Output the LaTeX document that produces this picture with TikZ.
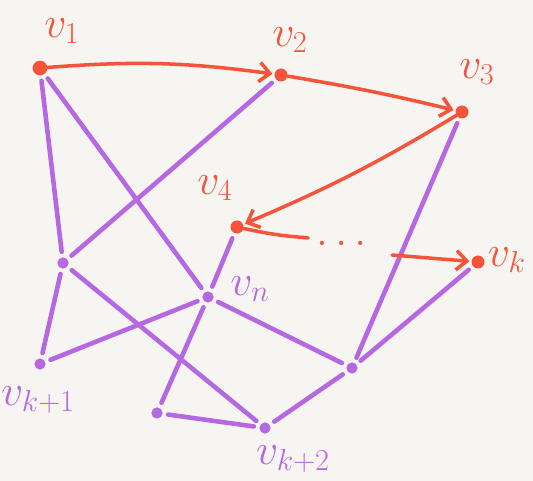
\documentclass[tikz,border=0pt]{standalone}
\usepackage{amsmath}
\usetikzlibrary{arrows.meta}
\definecolor{redpen}{RGB}{246,84,58}
\definecolor{purplepen}{RGB}{182,104,226}
\definecolor{paper}{RGB}{246,245,241}
\tikzset{
  every picture/.style={line join=round, line cap=round, >={Straight Barb[length=6pt,width=11pt]}},
  rdot/.style={circle, fill=redpen, inner sep=0pt, minimum size=7.4pt},
  pdot/.style={circle, fill=purplepen, inner sep=0pt, minimum size=6.4pt},
  rlbl/.style={text=redpen, font=\fontsize{26}{26}\selectfont},
  plbl/.style={text=purplepen, font=\fontsize{26}{26}\selectfont},
  redge/.style={->, draw=redpen, line width=2pt, shorten >=1pt},
  pedge/.style={draw=purplepen, line width=2.6pt, shorten <=3pt, shorten >=3pt},
}

\begin{document}
\begin{tikzpicture}
\fill[paper](0,0) rectangle (10.66,-9.62);
\useasboundingbox (0,0) rectangle (10.66,-9.62);
% red path
\node[rdot,minimum size=8.4pt] (v1) at (0.80,-1.36) {};
\node[rdot] (v2) at (5.62,-1.50) {};
\node[rdot] (v3) at (9.24,-2.24) {};
\node[rdot] (v4) at (4.74,-4.54) {};
\node[rdot] (vk) at (9.56,-5.24) {};
% purple vertices
\node[pdot] (a) at (1.26,-5.26) {};
\node[pdot] (vn) at (4.16,-5.94) {};
\node[pdot] (vk1) at (0.80,-7.28) {};
\node[pdot] (b) at (7.04,-7.36) {};
\node[pdot] (c) at (3.14,-8.26) {};
\node[pdot] (vk2) at (5.30,-8.56) {};
% labels
\node[rlbl] (l1) at (1.24,-0.62) {$v_1$};
\node[rlbl] (l2) at (5.80,-0.80) {$v_2$};
\node[rlbl] (l3) at (9.54,-1.44) {$v_3$};
\node[rlbl] (l4) at (4.30,-3.76) {$v_4$};
\node[rlbl] (lk) at (10.14,-5.20) {$v_k$};
\node[plbl] (ln) at (5.00,-5.78) {$v_n$};
\node[plbl] (lk1) at (0.76,-8.00) {$v_{k+1}$};
\node[plbl] (lk2) at (5.86,-9.18) {$v_{k+2}$};
% purple edges
\draw[pedge](v1)--(a);
\draw[pedge](v1)--(vn);
\draw[pedge](v2)--(a);
\draw[pedge](v3)--(b);
\draw[pedge](vk)--(b);
\draw[pedge](v4)--(vn);
\draw[pedge](a)--(vk1);
\draw[pedge](a)--(vk2);
\draw[pedge](vn)--(vk1);
\draw[pedge](vn)--(c);
\draw[pedge](vn)--(b);
\draw[pedge](c)--(vk2);
\draw[pedge](vk2)--(b);
% red arrows
\node[text=redpen, font=\fontsize{26}{26}\selectfont] (dots) at (6.90,-4.86) {$\dots$};
\coordinate (d1) at (6.20,-4.76);
\coordinate (d2) at (7.84,-5.10);
\draw[redge](v1) to[bend left=6] (v2);
\draw[redge](v2) to[bend left=2] (v3);
\draw[redge](v3) to[bend left=4] (v4);
\draw[redge,-](v4) to[bend right=4] (d1);
\draw[redge](d2)--(vk);
\end{tikzpicture}
\end{document}
